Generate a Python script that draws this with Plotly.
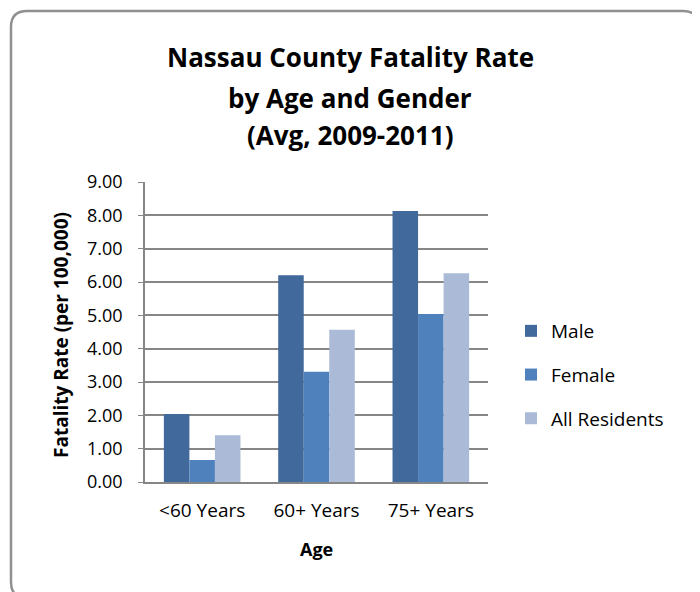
import plotly.graph_objects as go

categories = ["<60 Years", "60+ Years", "75+ Years"]
male = [2.04, 6.20, 8.13]
female = [0.66, 3.31, 5.04]
all_res = [1.40, 4.57, 6.26]
series_names = ["Male", "Female", "All Residents"]
colors = ["#41699B", "#4F81BD", "#AABAD7"]
tick_vals = [0, 1, 2, 3, 4, 5, 6, 7, 8, 9]
tick_text = ["%.2f" % v for v in tick_vals]
title_lines = ["Nassau County Fatality Rate", "by Age and Gender", "(Avg, 2009-2011)"]

OFF = 8  # page body margin
W, H = 692, 584
# plot area in page pixels
PL, PR, PT, PB = 145, 488, 182, 482
L, R, T, B = PL - OFF, PR - OFF, PT - OFF, PB - OFF


def px(x):  # page x -> paper
    return (x - OFF - L) / (R - L)


def py(y):  # page y -> paper
    return (B - (y - OFF)) / (B - T)


fig = go.Figure()
for i, (name, vals) in enumerate(zip(series_names, [male, female, all_res])):
    fig.add_trace(go.Bar(x=categories, y=vals, name=name, marker_color=colors[i],
                         marker_line_width=0, legendgroup=name))

font_family = "'Open Sans', sans-serif"

# rounded border (page coords)
x0, x1, y0, y1, r = 11, 699, 11, 598, 16
path = (f"M {px(x0+r)},{py(y0)} L {px(x1-r)},{py(y0)} Q {px(x1)},{py(y0)} {px(x1)},{py(y0+r)} "
        f"L {px(x1)},{py(y1-r)} Q {px(x1)},{py(y1)} {px(x1-r)},{py(y1)} "
        f"L {px(x0+r)},{py(y1)} Q {px(x0)},{py(y1)} {px(x0)},{py(y1-r)} "
        f"L {px(x0)},{py(y0+r)} Q {px(x0)},{py(y0)} {px(x0+r)},{py(y0)} Z")

annotations = []
for txt, yc in zip(title_lines, [57, 98, 135]):
    annotations.append(dict(text=f"<b>{txt}</b>", x=px(350), y=py(yc), xref="paper", yref="paper",
                            xanchor="center", yanchor="middle", showarrow=False,
                            font=dict(size=26, family=font_family, color="#000")))
# axis titles placed as annotations for exact positioning
annotations.append(dict(text="<b>Age</b>", x=px(316), y=py(549), xref="paper", yref="paper",
                        xanchor="center", yanchor="middle", showarrow=False,
                        font=dict(size=18, family=font_family, color="#000")))
annotations.append(dict(text="<b>Fatality Rate (per 100,000)</b>", x=px(61), y=py(335),
                        xref="paper", yref="paper", xanchor="center", yanchor="middle",
                        textangle=-90, showarrow=False,
                        font=dict(size=19, family=font_family, color="#000")))

fig.update_layout(
    width=W, height=H,
    margin=dict(l=L, r=W - R, t=T, b=H - B, pad=0),
    paper_bgcolor="white", plot_bgcolor="white",
    font=dict(family=font_family, color="#000000", size=16),
    barmode="group", bargap=0.33, bargroupgap=0,
    annotations=annotations,
    legend=dict(x=px(511), y=py(312), xanchor="left", yanchor="top",
                font=dict(size=19), tracegroupgap=16, itemwidth=30,
                bgcolor="rgba(0,0,0,0)"),
    xaxis=dict(showline=True, linecolor="#868686", linewidth=1.5, ticks="",
               tickfont=dict(size=19), ticklabelstandoff=10),
    yaxis=dict(range=[0, 9], tickvals=tick_vals, ticktext=tick_text, showgrid=True,
               gridcolor="#868686", gridwidth=1.5, showline=True, linecolor="#868686",
               linewidth=1.5, ticks="outside", ticklen=5, tickcolor="#868686",
               tickfont=dict(size=18), zeroline=False, ticklabelstandoff=12),
    shapes=[dict(type="path", path=path, xref="paper", yref="paper",
                 line=dict(color="#909090", width=2.5), fillcolor="rgba(0,0,0,0)", layer="below")],
)

fig.write_html("out.html")
